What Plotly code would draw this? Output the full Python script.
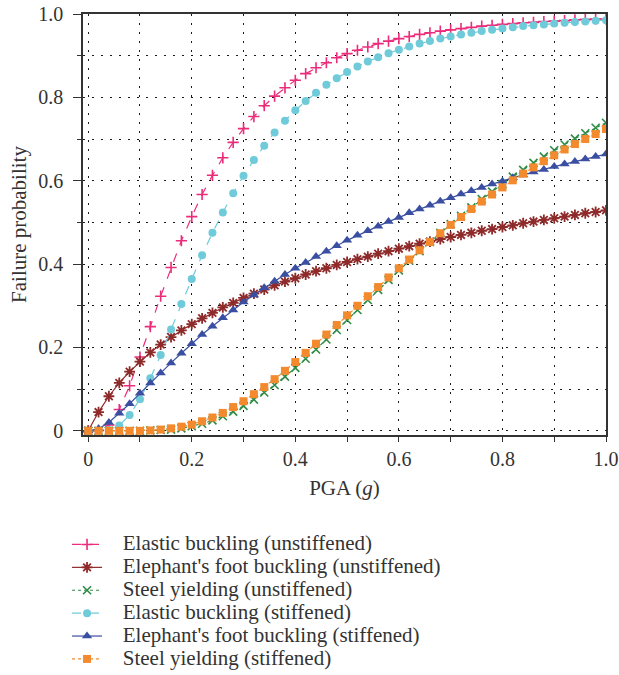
import plotly.graph_objects as go

# Peak ground acceleration (g)
pga = [round(0.02 * i, 2) for i in range(51)]

# Fragility curves: failure probability at each PGA step
elastic_unstiff = [
    0.000, 0.001, 0.014, 0.051, 0.108, 0.177, 0.250, 0.323, 0.392, 0.456,
    0.514, 0.567, 0.613, 0.655, 0.692, 0.725, 0.754, 0.780, 0.803, 0.823,
    0.841, 0.857, 0.871, 0.883, 0.895, 0.905, 0.913, 0.921, 0.929, 0.935,
    0.941, 0.946, 0.951, 0.955, 0.959, 0.962, 0.965, 0.968, 0.971, 0.973,
    0.975, 0.977, 0.979, 0.980, 0.982, 0.983, 0.984, 0.986, 0.987, 0.988,
    0.988,
]
elephant_unstiff = [
    0.000, 0.045, 0.083, 0.115, 0.142, 0.166, 0.188, 0.207, 0.225, 0.241,
    0.256, 0.270, 0.283, 0.296, 0.307, 0.319, 0.329, 0.339, 0.349, 0.358,
    0.366, 0.375, 0.383, 0.390, 0.398, 0.405, 0.412, 0.418, 0.425, 0.431,
    0.437, 0.443, 0.449, 0.454, 0.460, 0.465, 0.470, 0.475, 0.480, 0.484,
    0.489, 0.493, 0.498, 0.502, 0.506, 0.510, 0.514, 0.518, 0.522, 0.525,
    0.529,
]
steel_unstiff = [
    0.000, 0.000, 0.000, 0.000, 0.000, 0.000, 0.001, 0.002, 0.003, 0.006,
    0.011, 0.017, 0.025, 0.035, 0.046, 0.060, 0.075, 0.092, 0.110, 0.130,
    0.151, 0.173, 0.195, 0.219, 0.242, 0.266, 0.290, 0.314, 0.338, 0.362,
    0.385, 0.408, 0.431, 0.453, 0.475, 0.496, 0.516, 0.536, 0.556, 0.574,
    0.592, 0.610, 0.626, 0.643, 0.658, 0.673, 0.687, 0.701, 0.714, 0.727,
    0.739,
]
elastic_stiff = [
    0.000, 0.000, 0.002, 0.013, 0.038, 0.076, 0.126, 0.182, 0.243, 0.304,
    0.364, 0.421, 0.475, 0.524, 0.570, 0.612, 0.650, 0.684, 0.716, 0.744,
    0.769, 0.791, 0.811, 0.830, 0.846, 0.861, 0.874, 0.886, 0.896, 0.906,
    0.914, 0.922, 0.929, 0.935, 0.941, 0.946, 0.951, 0.955, 0.959, 0.962,
    0.965, 0.968, 0.971, 0.973, 0.975, 0.977, 0.979, 0.981, 0.982, 0.984,
    0.985,
]
elephant_stiff = [
    0.000, 0.005, 0.020, 0.042, 0.065, 0.090, 0.115, 0.139, 0.163, 0.186,
    0.209, 0.231, 0.251, 0.271, 0.290, 0.309, 0.326, 0.343, 0.359, 0.375,
    0.390, 0.404, 0.418, 0.431, 0.444, 0.457, 0.469, 0.480, 0.491, 0.502,
    0.512, 0.523, 0.532, 0.541, 0.551, 0.559, 0.568, 0.576, 0.584, 0.592,
    0.599, 0.607, 0.614, 0.621, 0.627, 0.634, 0.640, 0.646, 0.652, 0.658,
    0.664,
]
steel_stiff = [
    0.000, 0.000, 0.000, 0.000, 0.000, 0.000, 0.001, 0.003, 0.006, 0.010,
    0.015, 0.023, 0.032, 0.043, 0.057, 0.071, 0.088, 0.105, 0.124, 0.144,
    0.165, 0.187, 0.209, 0.231, 0.254, 0.277, 0.300, 0.323, 0.345, 0.368,
    0.390, 0.411, 0.433, 0.453, 0.474, 0.494, 0.513, 0.532, 0.550, 0.567,
    0.584, 0.601, 0.617, 0.632, 0.647, 0.661, 0.675, 0.688, 0.700, 0.712,
    0.724,
]

series_names = [
    "Elastic buckling (unstiffened)",
    "Elephant's foot buckling (unstiffened)",
    "Steel yielding (unstiffened)",
    "Elastic buckling (stiffened)",
    "Elephant's foot buckling (stiffened)",
    "Steel yielding (stiffened)",
]
series_values = [
    elastic_unstiff, elephant_unstiff, steel_unstiff,
    elastic_stiff, elephant_stiff, steel_stiff,
]

tick_vals = [0, 0.2, 0.4, 0.6, 0.8, 1.0]
tick_text = ["0", "0.2", "0.4", "0.6", "0.8", "1.0"]

styles = [
    dict(color="#EC2C7B", dash="dash", symbol="cross-thin", size=8, lw_m=1.6, open_sym=True),
    dict(color="#8E2A2A", dash="solid", symbol="asterisk", size=9, lw_m=1.8, open_sym=True),
    dict(color="#2E8B45", dash="dot", symbol="x-thin", size=8, lw_m=1.6, open_sym=True),
    dict(color="#6FCBD9", dash="dash", symbol="circle", size=8, lw_m=0, open_sym=False),
    dict(color="#3B4FA2", dash="solid", symbol="triangle-up", size=9, lw_m=0, open_sym=False),
    dict(color="#F48A2E", dash="dot", symbol="square", size=8, lw_m=0, open_sym=False),
]

FONT = "Liberation Serif"
TXT = "#333333"
GRID_DASH = "2px,7px"

fig = go.Figure()
for name, vals, st in zip(series_names, series_values, styles):
    if st["open_sym"]:
        marker = dict(symbol=st["symbol"], size=st["size"], color=st["color"],
                      line=dict(color=st["color"], width=st["lw_m"]))
    else:
        marker = dict(symbol=st["symbol"], size=st["size"], color=st["color"],
                      line=dict(width=0))
    label = '<span style="font-size:21px">\u00a0\u00a0\u00a0' + name + "</span>"
    fig.add_trace(go.Scatter(
        x=pga, y=vals, name=label, mode="lines+markers",
        line=dict(color=st["color"], width=1.2, dash=st["dash"]),
        marker=marker,
    ))

axis_common = dict(
    showline=True, linecolor=TXT, linewidth=1.5, mirror=True,
    ticks="outside", tickwidth=1.2, tickcolor=TXT,
    showgrid=True, gridcolor="#1a1a1a", gridwidth=1.2, griddash=GRID_DASH,
    zeroline=False, automargin=False,
    tickfont=dict(family=FONT, size=20, color=TXT),
    tickvals=tick_vals, ticktext=tick_text,
)
minor_common = dict(dtick=0.1, tick0=0, ticks="outside", tickwidth=1,
                    tickcolor=TXT, showgrid=True, gridcolor="#1a1a1a",
                    gridwidth=1.2, griddash=GRID_DASH)

fig.update_xaxes(
    range=[-0.01, 1.0], domain=[0.1225, 1.0], ticklen=5,
    minor=dict(ticklen=5, **minor_common),
    title=dict(text="PGA (<i>g</i>)", font=dict(family=FONT, size=21, color=TXT), standoff=12),
    **axis_common)
fig.update_yaxes(
    range=[-0.01, 1.0], domain=[0.3533, 1.0], ticklen=8, ticklabelstandoff=6,
    minor=dict(ticklen=4, **minor_common),
    title=dict(text="Failure probability", font=dict(family=FONT, size=21, color=TXT), standoff=6),
    **axis_common)

fig.update_layout(
    width=619, height=675,
    margin=dict(l=10, r=13, t=14, b=10, autoexpand=False),
    plot_bgcolor="white", paper_bgcolor="white",
    font=dict(family=FONT, color=TXT),
    showlegend=True,
    legend=dict(
        x=0.0957, y=0.2104, xanchor="left", yanchor="top",
        font=dict(family=FONT, size=15.3, color=TXT),
        tracegroupgap=0, itemwidth=30, bgcolor="rgba(0,0,0,0)",
    ),
)

fig.write_html("out.html")
